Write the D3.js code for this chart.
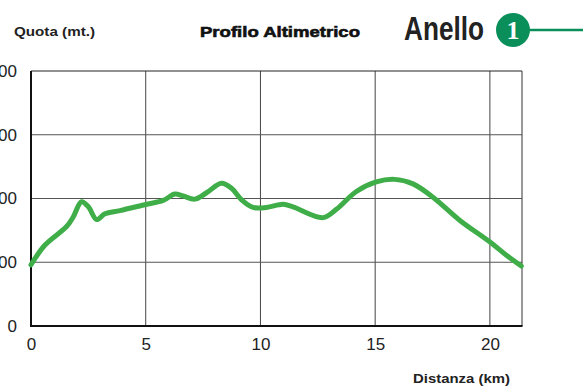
<!DOCTYPE html>
<html><head><meta charset="utf-8">
<script src="https://cdn.jsdelivr.net/npm/d3@7"></script>
<style>
html,body{margin:0;padding:0;background:#fff;}
svg{display:block;}
</style></head>
<body>
<svg id="c" width="583" height="391"></svg>
<script>
const distanceKm = [0, 0.61, 1.55, 1.84, 2.2, 2.5, 2.86, 3.22, 3.88, 5.04, 5.76, 6.27, 6.63, 7.14, 7.65, 8.3, 8.74, 9.18, 9.68, 10.26, 10.99, 11.42, 12.73, 13.31, 14.18, 15.05, 15.85, 16.65, 17.52, 18.68, 19.99, 20.72, 21.37];
const elevationM = [96, 127, 156, 171, 195, 187, 167, 176, 181, 191, 197, 207, 204, 199, 209, 224, 216, 198, 186, 186, 191, 187, 170, 183, 211, 226, 230, 223, 202, 166, 132, 111, 94];
const xTicks = [0, 5, 10, 15, 20];
const yTicks = [0, 100, 200, 300, 400];
const yTickLabels = ["0", "100", "200", "300", "400"];

(function () {
const svg = d3.select("#c");
const pL = 31, pR = 522, pT = 71, pB = 326;
const x = d3.scaleLinear().domain([0, 21.4]).range([pL, pR]);
const y = d3.scaleLinear().domain([0, 400]).range([pB, pT]);

// grid
svg.append("g").selectAll("line").data(xTicks.filter(d => d > 0)).join("line")
  .attr("x1", d => x(d)).attr("x2", d => x(d)).attr("y1", pT).attr("y2", pB)
  .attr("stroke", "#444").attr("stroke-width", 1);
svg.append("g").selectAll("line").data(yTicks.filter(d => d > 0 && d < 400)).join("line")
  .attr("x1", pL).attr("x2", pR).attr("y1", d => y(d)).attr("y2", d => y(d))
  .attr("stroke", "#555").attr("stroke-width", 1);

// frame
svg.append("line").attr("x1", pL).attr("x2", pR).attr("y1", pT).attr("y2", pT).attr("stroke", "#222").attr("stroke-width", 1);
svg.append("line").attr("x1", pR).attr("x2", pR).attr("y1", pT).attr("y2", pB).attr("stroke", "#333").attr("stroke-width", 1);

// axes
const xAxis = svg.append("g").attr("transform", `translate(0,${pB})`)
  .call(d3.axisBottom(x).tickValues(xTicks).tickSize(0).tickPadding(12));
xAxis.select(".domain").remove();
xAxis.selectAll("text").attr("font-family", "'Liberation Sans Narrow', 'Liberation Sans', Arial, sans-serif")
  .attr("font-size", 17).attr("fill", "#222");

const yAxis = svg.append("g").attr("transform", `translate(${pL},0)`)
  .call(d3.axisLeft(y).tickValues(yTicks).tickFormat((d, i) => yTickLabels[i]).tickSize(0).tickPadding(14));
yAxis.select(".domain").remove();
yAxis.selectAll("text").attr("font-family", "'Liberation Sans Narrow', 'Liberation Sans', Arial, sans-serif")
  .attr("font-size", 17).attr("fill", "#222");

svg.append("line").attr("x1", pL).attr("x2", pL).attr("y1", pT).attr("y2", pB + 1).attr("stroke", "#111").attr("stroke-width", 2);
svg.append("line").attr("x1", pL - 1).attr("x2", pR + 0.5).attr("y1", pB).attr("y2", pB).attr("stroke", "#111").attr("stroke-width", 2);

// profile line
const pts = distanceKm.map((d, i) => [d, elevationM[i]]);
svg.append("path").datum(pts)
  .attr("d", d3.line().x(d => x(d[0])).y(d => y(d[1])).curve(d3.curveCatmullRom.alpha(0.5)))
  .attr("fill", "none").attr("stroke", "#3fae49").attr("stroke-width", 5)
  .attr("stroke-linecap", "round").attr("stroke-linejoin", "round");

// header texts
svg.append("text").attr("x", 14).attr("y", 36).text("Quota (mt.)")
  .attr("font-family", "'Liberation Sans', Arial, sans-serif").attr("font-weight", "bold")
  .attr("font-size", 13).attr("textLength", 81).attr("lengthAdjust", "spacingAndGlyphs").attr("fill", "#222");
svg.append("text").attr("x", 200).attr("y", 37).text("Profilo Altimetrico")
  .attr("font-family", "'Liberation Sans', Arial, sans-serif").attr("font-weight", "900")
  .attr("font-size", 15).attr("textLength", 160).attr("lengthAdjust", "spacingAndGlyphs")
  .attr("fill", "#111").attr("stroke", "#111").attr("stroke-width", 0.6);
svg.append("text").attr("x", 404).attr("y", 40).text("Anello")
  .attr("font-family", "'Liberation Sans Narrow', 'Liberation Sans', Arial, sans-serif").attr("font-weight", "bold")
  .attr("font-size", 34).attr("textLength", 80).attr("lengthAdjust", "spacingAndGlyphs").attr("fill", "#222");
svg.append("line").attr("x1", 525).attr("x2", 583).attr("y1", 30).attr("y2", 30).attr("stroke", "#0a8f5a").attr("stroke-width", 2.5);
svg.append("circle").attr("cx", 513).attr("cy", 30).attr("r", 17).attr("fill", "#0a8f5a");
svg.append("text").attr("x", 513).attr("y", 39).attr("text-anchor", "middle").text("1")
  .attr("font-family", "'Liberation Serif', serif").attr("font-weight", "bold")
  .attr("font-size", 26).attr("fill", "#fff");

svg.append("text").attr("x", 413).attr("y", 383).text("Distanza (km)")
  .attr("font-family", "'Liberation Sans', Arial, sans-serif").attr("font-weight", "bold")
  .attr("font-size", 13).attr("textLength", 97).attr("lengthAdjust", "spacingAndGlyphs").attr("fill", "#222");
})();
</script>
</body></html>
